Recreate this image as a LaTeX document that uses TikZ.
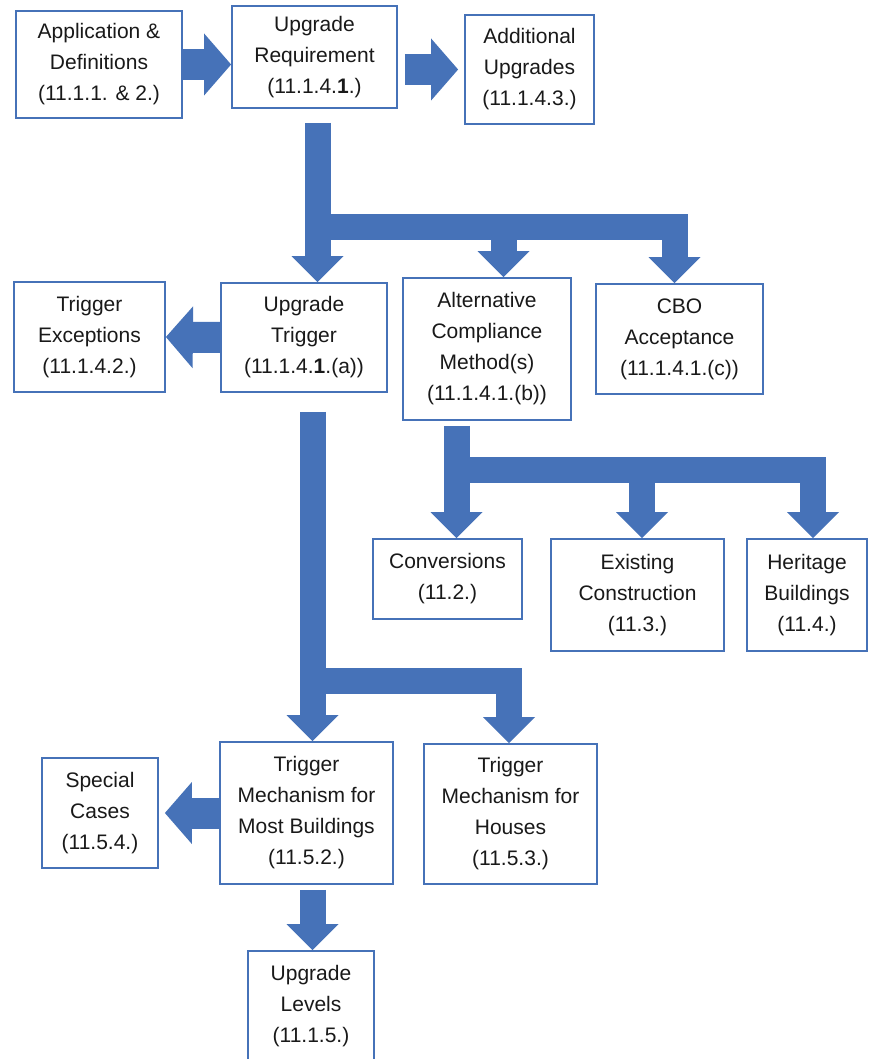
\documentclass[tikz,border=0pt]{standalone}
\usepackage{fontspec}
\setmainfont{Liberation Sans}
\usetikzlibrary{arrows.meta}
\definecolor{blu}{RGB}{70,114,184}
\begin{document}
\begin{tikzpicture}[x=1pt,y=-1pt,
  txt/.style={align=center,font=\fontsize{21}{31}\selectfont,text=black!90},
  box/.style={txt,draw=blu,line width=1.8pt,inner sep=0pt},
  va/.style={draw=blu,line width=26pt,line join=miter,-{Triangle[length=26pt,width=52pt,line width=0pt]}},
  ha/.style={draw=blu,line width=31pt,-{Triangle[length=27pt,width=62pt,line width=0pt]}}]
\useasboundingbox (0,0) rectangle (870,1059);
\fill[white] (0,0) rectangle (870,1059);
\clip (0,0) rectangle (870,1059);

% boxes
\node[box,minimum width=166pt,minimum height=107pt] (app) at (99,64.5) {Application \&\\Definitions\\(11.1.1. \& 2.)};
\node[box,minimum width=165pt,minimum height=102pt] (req) at (314.5,57) {Upgrade\\Requirement\\(11.1.4.\textbf{1}.)};
\node[box,minimum width=129pt,minimum height=109pt] (add) at (529.5,69.5) {Additional\\Upgrades\\(11.1.4.3.)};
\node[box,minimum width=151pt,minimum height=110pt] (trex) at (89.5,337) {Trigger\\Exceptions\\(11.1.4.2.)};
\node[box,minimum width=166pt,minimum height=109pt] (utrig) at (304,337.5) {Upgrade\\Trigger\\(11.1.4.\textbf{1}.(a))};
\node[box,minimum width=168pt,minimum height=142pt] (alt) at (487,349) {Alternative\\Compliance\\Method(s)\\(11.1.4.1.(b))};
\node[box,minimum width=167pt,minimum height=110pt] (cbo) at (679.5,339) {CBO\\Acceptance\\(11.1.4.1.(c))};
\node[box,minimum width=149pt,minimum height=80pt] (conv) at (447.5,579) {Conversions\\(11.2.)};
\node[box,minimum width=173pt,minimum height=112pt] (exist) at (637.5,595) {Existing\\Construction\\(11.3.)};
\node[box,minimum width=120pt,minimum height=112pt] (herit) at (807,595) {Heritage\\Buildings\\(11.4.)};
\node[box,minimum width=173pt,minimum height=142pt] (most) at (306.5,813) {Trigger\\Mechanism for\\Most Buildings\\(11.5.2.)};
\node[box,minimum width=173pt,minimum height=140pt] (houses) at (510.5,814) {Trigger\\Mechanism for\\Houses\\(11.5.3.)};
\node[box,minimum width=116pt,minimum height=110pt] (special) at (100,813) {Special\\Cases\\(11.5.4.)};
\node[box,minimum width=126pt,minimum height=130pt,anchor=north] (levels) at (311,950) {};
\node[txt] (levelstxt) at (311,1006) {Upgrade\\Levels\\(11.1.5.)};

% horizontal arrows
\draw[ha] (app.east) -- (app.east -| req.west);
\draw[ha,shorten <=7pt,shorten >=6pt] (req.east |- add.west) -- (add.west);
\draw[ha] (utrig.west) -- (trex.east);
\draw[ha] (most.west) -- ([xshift=6pt]special.east);

% branch from upgrade requirement
\coordinate (j1) at (317.5,227.5);
\coordinate (j1m) at (503.5,227.5);
\coordinate (j1r) at (674.5,227.5);
\draw[va] ([yshift=-14pt]req.south -| j1) -- (j1 |- utrig.north);
\draw[va] (j1) -- (j1r) -- (j1r |- cbo.north);
\draw[va] (j1m) -- (j1m |- alt.north);

% branch from alternative compliance
\coordinate (j2) at (456.5,469.5);
\coordinate (j2m) at (642,469.5);
\coordinate (j2r) at (813,469.5);
\draw[va] ([yshift=-5pt]alt.south -| j2) -- (j2 |- conv.north);
\draw[va] (j2) -- (j2r) -- (j2r |- herit.north);
\draw[va] (j2m) -- (j2m |- exist.north);

% branch from upgrade trigger
\coordinate (j3) at (312.5,680.5);
\coordinate (j3r) at (509,680.5);
\draw[va] ([yshift=-19pt]utrig.south -| j3) -- (j3 |- most.north);
\draw[va] (j3) -- (j3r) -- (j3r |- houses.north);

% to upgrade levels
\draw[va] ([yshift=-5pt]most.south -| j3) -- (j3 |- levels.north);
\end{tikzpicture}
\end{document}
